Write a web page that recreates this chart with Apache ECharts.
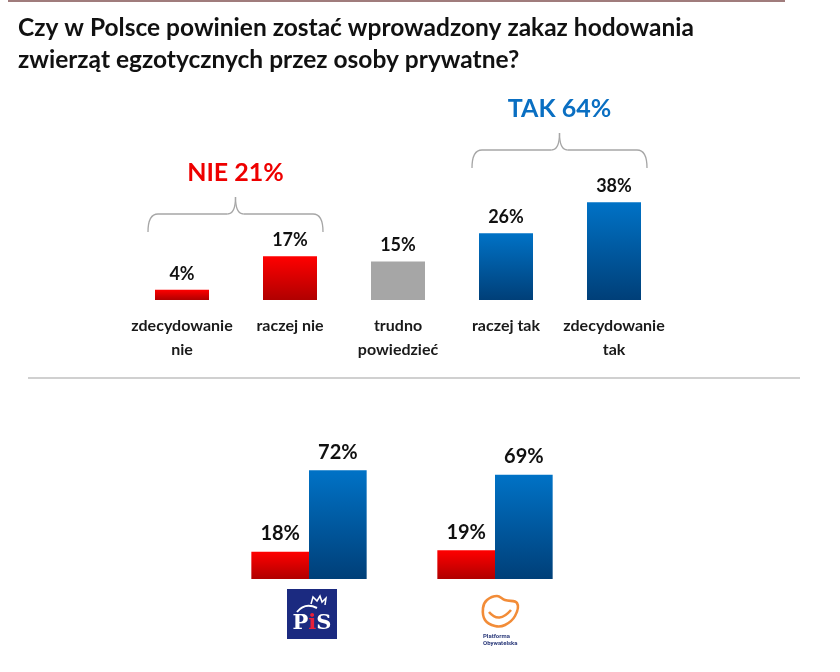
<!DOCTYPE html>
<html><head><meta charset="utf-8">
<script src="https://cdn.jsdelivr.net/npm/echarts@6/dist/echarts.min.js"></script>
<style>html,body{margin:0;padding:0;background:#fff}#c{width:840px;height:672px}</style>
</head><body><div id="c"></div>
<script>
const titleLines = ['Czy w Polsce powinien zostać wprowadzony zakaz hodowania', 'zwierząt egzotycznych przez osoby prywatne?'];
const categories = ['zdecydowanie\nnie', 'raczej nie', 'trudno\npowiedzieć', 'raczej tak', 'zdecydowanie\ntak'];
const values = [4, 17, 15, 26, 38];
const kinds = ['nie', 'nie', 'neutral', 'tak', 'tak'];
const groupNie = {label: 'NIE 21%', from: 0, to: 1};
const groupTak = {label: 'TAK 64%', from: 3, to: 4};
const parties = ['PiS', 'PO'];
const partyNie = [18, 19];
const partyTak = [72, 69];

const FONT = 'Lato';
const redGrad = new echarts.graphic.LinearGradient(0,0,0,1,[{offset:0,color:'#ff0000'},{offset:1,color:'#b00000'}]);
const blueGrad = new echarts.graphic.LinearGradient(0,0,0,1,[{offset:0,color:'#0072c6'},{offset:1,color:'#003f78'}]);
const gray = '#a6a6a6';
function colorFor(k){ return k==='nie'?redGrad:(k==='tak'?blueGrad:gray); }

const chart = echarts.init(document.getElementById('c'), null, {renderer:'canvas'});
const option = {
  animation:false,
  backgroundColor:'#fff',
  grid:[
    {left:128, width:540, top:43, height:257},
    {left:216, width:372, top:428, height:151}
  ],
  xAxis:[
    {gridIndex:0, type:'category', data:categories,
     axisLine:{show:false}, axisTick:{show:false},
     axisLabel:{interval:0, margin:14, fontFamily:FONT, fontWeight:'bold', fontSize:16, color:'#1a1a1a', lineHeight:24}},
    {gridIndex:1, type:'category', data:parties,
     axisLine:{show:false}, axisTick:{show:false}, axisLabel:{show:false}}
  ],
  yAxis:[
    {gridIndex:0, type:'value', min:0, max:100, show:false, splitLine:{show:false}},
    {gridIndex:1, type:'value', min:0, max:100, show:false, splitLine:{show:false}}
  ],
  series:[
    {type:'bar', xAxisIndex:0, yAxisIndex:0, barWidth:'50%',
     data: values.map((v,i)=>({value:v, itemStyle:{color:colorFor(kinds[i])}})),
     label:{show:true, position:'top', distance:7, formatter:'{c}%', fontFamily:FONT, fontWeight:'bold', fontSize:18, color:'#111'}},
    {type:'bar', xAxisIndex:1, yAxisIndex:1, barWidth:'31%', barGap:'0%',
     data: partyNie, itemStyle:{color:redGrad},
     label:{show:true, position:'top', distance:8, formatter:'{c}%', fontFamily:FONT, fontWeight:'bold', fontSize:20, color:'#111'}},
    {type:'bar', xAxisIndex:1, yAxisIndex:1, barWidth:'31%', barGap:'0%',
     data: partyTak, itemStyle:{color:blueGrad},
     label:{show:true, position:'top', distance:8, formatter:'{c}%', fontFamily:FONT, fontWeight:'bold', fontSize:20, color:'#111'}}
  ]
};
chart.setOption(option);

const BR = {stroke:'#a6a6a6', lineWidth:1.3, fill:null};
function bracket(g, yBase, yTop, color){
  const x1 = chart.convertToPixel({xAxisIndex:0}, g.from) - 34;
  const x2 = chart.convertToPixel({xAxisIndex:0}, g.to) + 33;
  const xm = (x1+x2)/2;
  const yh = yBase - 18;
  const r = 10;
  return [
    {type:'bezierCurve', shape:{x1:x1,y1:yBase,cpx1:x1,cpy1:yh,x2:x1+r,y2:yh}, style:BR},
    {type:'line', shape:{x1:x1+r,y1:yh,x2:xm-8,y2:yh}, style:BR},
    {type:'bezierCurve', shape:{x1:xm-8,y1:yh,cpx1:xm,cpy1:yh,x2:xm,y2:yTop}, style:BR},
    {type:'bezierCurve', shape:{x1:xm,y1:yTop,cpx1:xm,cpy1:yh,x2:xm+8,y2:yh}, style:BR},
    {type:'line', shape:{x1:xm+8,y1:yh,x2:x2-r,y2:yh}, style:BR},
    {type:'bezierCurve', shape:{x1:x2-r,y1:yh,cpx1:x2,cpy1:yh,x2:x2,y2:yBase}, style:BR},
    {type:'text', x:xm, y:yTop-24, style:{text:g.label, fill:color, font:`bold 25px ${FONT}`, align:'center', verticalAlign:'middle'}}
  ];
}

const pisX = chart.convertToPixel({xAxisIndex:1}, 0);
const poX = chart.convertToPixel({xAxisIndex:1}, 1);

const graphics = [
  {type:'line', shape:{x1:8,y1:1,x2:785,y2:1}, style:{stroke:'#a07c7c', lineWidth:2}},
  {type:'text', x:18, y:28, style:{text:titleLines[0], fill:'#111', font:`bold 24.5px ${FONT}`, verticalAlign:'middle'}},
  {type:'text', x:18, y:60, style:{text:titleLines[1], fill:'#111', font:`bold 24.5px ${FONT}`, verticalAlign:'middle'}},
  {type:'line', shape:{x1:28,y1:378,x2:800,y2:378}, style:{stroke:'#c0c0c0', lineWidth:1.5}},
  ...bracket(groupNie, 232, 197, '#ee0000'),
  ...bracket(groupTak, 168, 133, '#0a6fc2'),
  // PiS logo
  {type:'rect', shape:{x:pisX-22, y:589, width:50, height:50}, style:{fill:'#1b2a80'}},
  {type:'polyline', shape:{points:[[pisX+2,604],[pisX+4,597],[pisX+8,601],[pisX+11,596],[pisX+13,602],[pisX+17,598],[pisX+16,605]]}, style:{stroke:'#fff', lineWidth:1.5, fill:null}},
  {type:'bezierCurve', shape:{x1:pisX-12,y1:612,cpx1:pisX-4,cpy1:602,x2:pisX+8,y2:608}, style:{stroke:'#fff', lineWidth:2, fill:null}},
  {type:'text', x:pisX+3, y:624, style:{text:'{a|P}{b|i}{a|S}', align:'center', verticalAlign:'middle',
    rich:{a:{fill:'#fff', font:'bold 21px "DejaVu Serif"'}, b:{fill:'#e8203a', font:'bold 21px "DejaVu Serif"'}}}},
  // PO logo
  {type:'polygon', shape:{smooth:0.4, points:[[poX-8,600],[poX+2,596],[poX+10,600],[poX+22,603],[poX+20,616],[poX+10,625],[poX,626],[poX-10,620],[poX-12,608]]},
   style:{stroke:'#f28c38', lineWidth:2.6, fill:null}},
  {type:'bezierCurve', shape:{x1:poX-6,y1:612,cpx1:poX+4,cpy1:624,x2:poX+16,y2:610}, style:{stroke:'#f28c38', lineWidth:2.6, fill:null}},
  {type:'text', x:poX-12, y:636, style:{text:'Platforma', fill:'#2b3a7a', font:'bold 6px Roboto', verticalAlign:'middle'}},
  {type:'text', x:poX-12, y:643, style:{text:'Obywatelska', fill:'#2b3a7a', font:'bold 6px Roboto', verticalAlign:'middle'}}
];
chart.setOption({graphic: graphics});
</script></body></html>
